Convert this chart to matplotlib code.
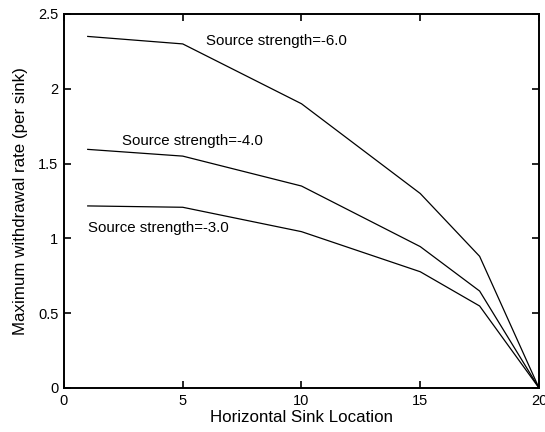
import matplotlib
matplotlib.use('Agg')
import matplotlib.pyplot as plt
from matplotlib.ticker import FormatStrFormatter

plt.rcParams['font.family'] = ['Liberation Sans', 'DejaVu Sans']

# sink locations and withdrawal rates per source strength
x = [1, 5, 10, 15, 17.5, 20]
rate_6 = [2.35, 2.30, 1.90, 1.30, 0.88, 0.0]
rate_4 = [1.595, 1.55, 1.35, 0.945, 0.648, 0.0]
rate_3 = [1.217, 1.208, 1.045, 0.777, 0.548, 0.0]
labels = ['Source strength=-6.0', 'Source strength=-4.0', 'Source strength=-3.0']
label_pos = [(6.0, 2.32), (2.45, 1.65), (1.0, 1.07)]

fig = plt.figure(figsize=(5.45, 4.32), dpi=100)
ax = fig.add_axes([0.1174, 0.1019, 0.8716, 0.8657])

for y in (rate_6, rate_4, rate_3):
    ax.plot(x, y, color='black', linewidth=0.9)

for lab, (tx, ty) in zip(labels, label_pos):
    ax.text(tx, ty, lab, fontsize=10.8, va='center', ha='left')

ax.set_xlim(0, 20)
ax.set_ylim(0, 2.5)
ax.set_xticks([0, 5, 10, 15, 20])
ax.set_yticks([0, 0.5, 1, 1.5, 2, 2.5])
ax.yaxis.set_major_formatter(FormatStrFormatter('%g'))
ax.tick_params(direction='in', top=True, right=True, length=5, width=1.2,
               labelsize=10.5, pad=4)
for s in ax.spines.values():
    s.set_linewidth(1.4)

ax.set_xlabel('Horizontal Sink Location', fontsize=12.2, labelpad=2)
ax.set_ylabel('Maximum withdrawal rate (per sink)', fontsize=12.2, labelpad=7)

fig.savefig('out.png', dpi=100)
